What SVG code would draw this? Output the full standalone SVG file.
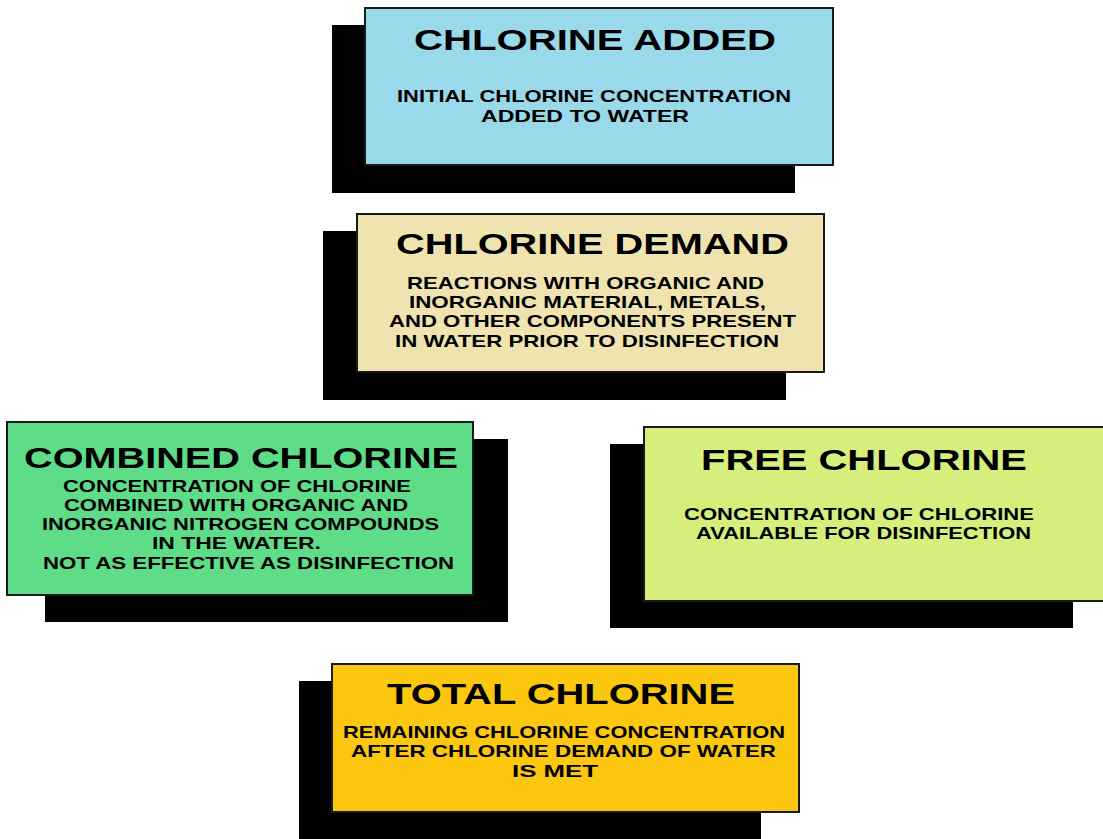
<svg xmlns="http://www.w3.org/2000/svg" width="1103" height="839" viewBox="0 0 1103 839">
<style>
.shadow{fill:#000}
.box{stroke:#1a1a1a;stroke-width:2}
.t{font-family:"Liberation Sans",Arial,sans-serif;font-weight:bold;font-size:29px;fill:#000}
.s{font-family:"Liberation Sans",Arial,sans-serif;font-weight:bold;font-size:17px;fill:#000}
</style>
<rect width="1103" height="839" fill="#fff"/>
<g id="chlorine-added">
<rect class="shadow" x="332" y="25" width="463" height="168"/>
<rect class="box" x="365" y="8" width="468" height="157" fill="#99d9ea"/>
<text class="t" x="414" y="50" textLength="362" lengthAdjust="spacingAndGlyphs">CHLORINE ADDED</text>
<text class="s" x="397" y="102" textLength="394" lengthAdjust="spacingAndGlyphs">INITIAL CHLORINE CONCENTRATION</text>
<text class="s" x="481" y="121.5" textLength="208" lengthAdjust="spacingAndGlyphs">ADDED TO WATER</text>
</g>
<g id="chlorine-demand">
<rect class="shadow" x="323" y="231" width="463" height="169"/>
<rect class="box" x="357" y="214" width="467" height="158" fill="#efe4b0"/>
<text class="t" x="396" y="254" textLength="393" lengthAdjust="spacingAndGlyphs">CHLORINE DEMAND</text>
<text class="s" x="407" y="288.5" textLength="357" lengthAdjust="spacingAndGlyphs">REACTIONS WITH ORGANIC AND</text>
<text class="s" x="409" y="307.5" textLength="357" lengthAdjust="spacingAndGlyphs">INORGANIC MATERIAL, METALS,</text>
<text class="s" x="389" y="327" textLength="407" lengthAdjust="spacingAndGlyphs">AND OTHER COMPONENTS PRESENT</text>
<text class="s" x="395" y="346.5" textLength="384" lengthAdjust="spacingAndGlyphs">IN WATER PRIOR TO DISINFECTION</text>
</g>
<g id="combined-chlorine">
<rect class="shadow" x="45" y="439" width="463" height="183"/>
<rect class="box" x="7" y="422" width="466" height="173" fill="#5edc87"/>
<text class="t" x="24" y="468" textLength="434" lengthAdjust="spacingAndGlyphs">COMBINED CHLORINE</text>
<text class="s" x="63" y="492" textLength="348" lengthAdjust="spacingAndGlyphs">CONCENTRATION OF CHLORINE</text>
<text class="s" x="64" y="511" textLength="344" lengthAdjust="spacingAndGlyphs">COMBINED WITH ORGANIC AND</text>
<text class="s" x="42" y="530" textLength="397" lengthAdjust="spacingAndGlyphs">INORGANIC NITROGEN COMPOUNDS</text>
<text class="s" x="152" y="549" textLength="169" lengthAdjust="spacingAndGlyphs">IN THE WATER.</text>
<text class="s" x="43" y="569" textLength="411" lengthAdjust="spacingAndGlyphs">NOT AS EFFECTIVE AS DISINFECTION</text>
</g>
<g id="free-chlorine">
<rect class="shadow" x="610" y="444" width="463" height="184"/>
<rect class="box" x="644" y="427" width="470" height="174" fill="#d5ee7c"/>
<text class="t" x="701" y="470" textLength="326" lengthAdjust="spacingAndGlyphs">FREE CHLORINE</text>
<text class="s" x="684" y="520" textLength="350" lengthAdjust="spacingAndGlyphs">CONCENTRATION OF CHLORINE</text>
<text class="s" x="696" y="539" textLength="335" lengthAdjust="spacingAndGlyphs">AVAILABLE FOR DISINFECTION</text>
</g>
<g id="total-chlorine">
<rect class="shadow" x="299" y="681" width="462" height="160"/>
<rect class="box" x="332" y="664" width="467" height="148" fill="#fcc70f"/>
<text class="t" x="387" y="704" textLength="348" lengthAdjust="spacingAndGlyphs">TOTAL CHLORINE</text>
<text class="s" x="343" y="738" textLength="442" lengthAdjust="spacingAndGlyphs">REMAINING CHLORINE CONCENTRATION</text>
<text class="s" x="351" y="757" textLength="425" lengthAdjust="spacingAndGlyphs">AFTER CHLORINE DEMAND OF WATER</text>
<text class="s" x="512" y="777" textLength="86" lengthAdjust="spacingAndGlyphs">IS MET</text>
</g>
<g id="connectors"></g>
</svg>
